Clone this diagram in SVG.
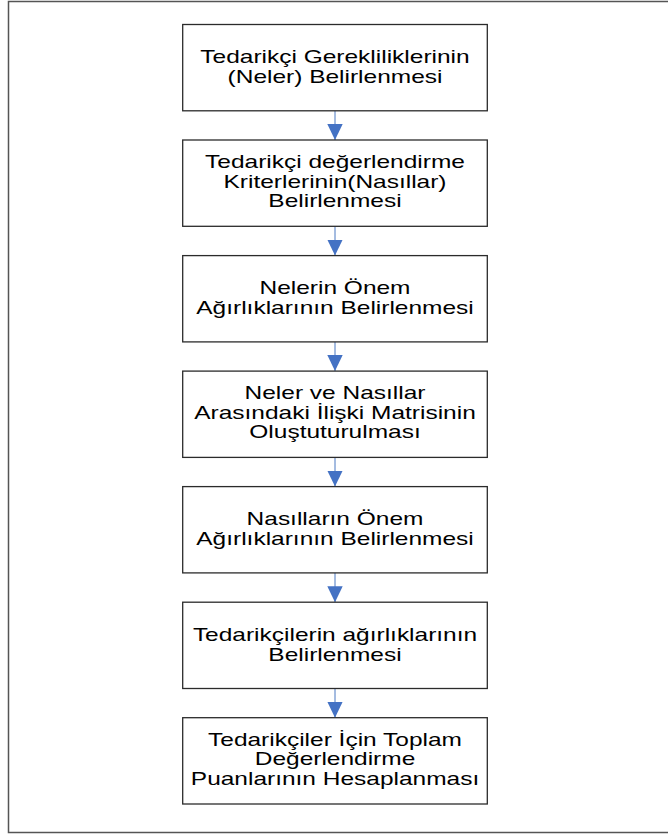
<svg xmlns="http://www.w3.org/2000/svg" width="668" height="834" viewBox="0 0 668 834">
  <defs>
    <style>
      .frame { fill: none; stroke: #555555; stroke-width: 1.5; }
      .box { fill: #ffffff; stroke: #2b2b2b; stroke-width: 1.3; }
      .lbl { font-family: "Liberation Sans", Arial, sans-serif; font-size: 17.5px; fill: #000000; text-anchor: middle; }
      .link { stroke: #4a78c2; stroke-width: 1; fill: none; marker-end: url(#head); }
    </style>
    <marker id="head" markerUnits="userSpaceOnUse" markerWidth="17" markerHeight="16" refX="16" refY="8" orient="auto" viewBox="0 0 17 16">
      <path d="M0,0.3 L16,8 L0,15.7 Z" fill="#4472c4"/>
    </marker>
  </defs>

  <rect width="668" height="834" fill="#ffffff"/>
  <rect class="frame" x="8.5" y="1.5" width="700" height="831"/>

  <g id="connectors">
    <line class="link" x1="335" y1="110.8" x2="335" y2="140"/>
    <line class="link" x1="335" y1="226.3" x2="335" y2="255.6"/>
    <line class="link" x1="335" y1="341.9" x2="335" y2="371.1"/>
    <line class="link" x1="335" y1="457.4" x2="335" y2="486.6"/>
    <line class="link" x1="335" y1="572.9" x2="335" y2="602.2"/>
    <line class="link" x1="335" y1="688.5" x2="335" y2="717.7"/>
  </g>

  <g id="node1">
    <rect class="box" x="182.7" y="24.5" width="304.6" height="86.3"/>
    <g transform="translate(335,0) scale(1.4,1)">
      <text class="lbl" x="0" y="63.5">Tedarikçi Gerekliliklerinin</text>
      <text class="lbl" x="0" y="83">(Neler) Belirlenmesi</text>
    </g>
  </g>

  <g id="node2">
    <rect class="box" x="182.7" y="140" width="304.6" height="86.3"/>
    <g transform="translate(335,0) scale(1.4,1)">
      <text class="lbl" x="0" y="168">Tedarikçi değerlendirme</text>
      <text class="lbl" x="0" y="187.6">Kriterlerinin(Nasıllar)</text>
      <text class="lbl" x="0" y="207.3">Belirlenmesi</text>
    </g>
  </g>

  <g id="node3">
    <rect class="box" x="182.7" y="255.6" width="304.6" height="86.3"/>
    <g transform="translate(335,0) scale(1.4,1)">
      <text class="lbl" x="0" y="294.5">Nelerin Önem</text>
      <text class="lbl" x="0" y="314">Ağırlıklarının Belirlenmesi</text>
    </g>
  </g>

  <g id="node4">
    <rect class="box" x="182.7" y="371.1" width="304.6" height="86.3"/>
    <g transform="translate(335,0) scale(1.4,1)">
      <text class="lbl" x="0" y="399">Neler ve Nasıllar</text>
      <text class="lbl" x="0" y="418.7">Arasındaki İlişki Matrisinin</text>
      <text class="lbl" x="0" y="438.4">Oluştuturulması</text>
    </g>
  </g>

  <g id="node5">
    <rect class="box" x="182.7" y="486.6" width="304.6" height="86.3"/>
    <g transform="translate(335,0) scale(1.4,1)">
      <text class="lbl" x="0" y="525.5">Nasılların Önem</text>
      <text class="lbl" x="0" y="545">Ağırlıklarının Belirlenmesi</text>
    </g>
  </g>

  <g id="node6">
    <rect class="box" x="182.7" y="602.2" width="304.6" height="86.3"/>
    <g transform="translate(335,0) scale(1.4,1)">
      <text class="lbl" x="0" y="641">Tedarikçilerin ağırlıklarının</text>
      <text class="lbl" x="0" y="660.6">Belirlenmesi</text>
    </g>
  </g>

  <g id="node7">
    <rect class="box" x="182.7" y="717.7" width="304.6" height="86.3"/>
    <g transform="translate(335,0) scale(1.4,1)">
      <text class="lbl" x="0" y="745.7">Tedarikçiler İçin Toplam</text>
      <text class="lbl" x="0" y="765.4">Değerlendirme</text>
      <text class="lbl" x="0" y="785">Puanlarının Hesaplanması</text>
    </g>
  </g>
</svg>
